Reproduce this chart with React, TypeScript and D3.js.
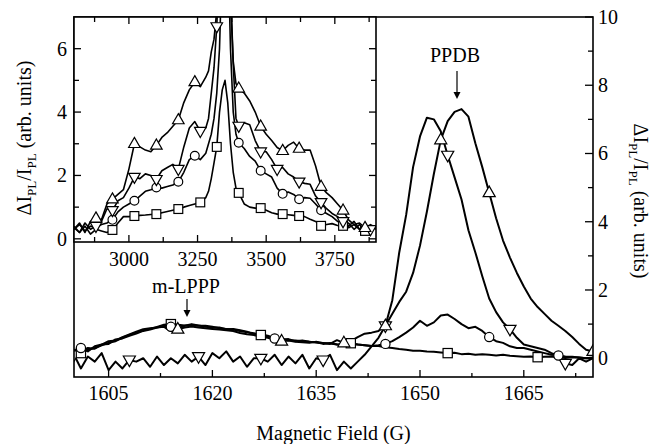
import React from "react";
import * as d3 from "d3";

// ---------- Main panel data (Magnetic field, G) ----------
const mainX: number[] = d3.range(1600, 1676, 1);

const mainSquare: number[] = [
  0.2, 0.15, 0.25, 0.3, 0.38, 0.45, 0.5, 0.6, 0.68, 0.75,
  0.82, 0.86, 0.92, 0.98, 1.0, 0.98, 0.96, 0.97, 0.95, 0.95,
  0.92, 0.88, 0.86, 0.84, 0.8, 0.76, 0.73, 0.68, 0.64, 0.6,
  0.56, 0.53, 0.52, 0.5, 0.48, 0.46, 0.45, 0.43, 0.4, 0.42,
  0.44, 0.4, 0.38, 0.36, 0.36, 0.32, 0.3, 0.27, 0.25, 0.22,
  0.22, 0.2, 0.19, 0.17, 0.15, 0.16, 0.12, 0.13, 0.1, 0.12,
  0.1, 0.08, 0.1, 0.07, 0.06, 0.04, 0.05, 0.03, 0.04, 0.05,
  0.02, 0.01, 0.03, 0.02, 0.0, 0.02,
];
const mainCircle: number[] = [
  0.1, 0.3, 0.2, 0.35, 0.4, 0.5, 0.52, 0.62, 0.7, 0.78,
  0.85, 0.88, 0.9, 0.95, 0.92, 0.88, 0.95, 1.0, 0.96, 0.92,
  0.9, 0.9, 0.85, 0.86, 0.82, 0.78, 0.7, 0.7, 0.66, 0.58,
  0.55, 0.56, 0.5, 0.52, 0.48, 0.47, 0.42, 0.45, 0.4, 0.38,
  0.42, 0.4, 0.38, 0.36, 0.38, 0.42, 0.5, 0.62, 0.75, 0.9,
  1.1, 0.95, 1.05, 1.25, 1.28, 1.15, 1.0, 0.88, 0.92, 0.8,
  0.62, 0.5, 0.45, 0.35, 0.3, 0.3, 0.25, 0.2, 0.15, 0.1,
  0.08, 0.05, 0.04, 0.02, 0.0, 0.0,
];
const mainUp: number[] = [
  0.25, 0.2, 0.3, 0.28, 0.4, 0.42, 0.55, 0.58, 0.66, 0.72,
  0.8, 0.84, 0.9, 0.92, 0.8, 0.85, 0.9, 0.93, 0.9, 0.88,
  0.86, 0.84, 0.82, 0.8, 0.74, 0.7, 0.68, 0.62, 0.6, 0.54,
  0.5, 0.52, 0.48, 0.47, 0.45, 0.48, 0.44, 0.42, 0.53, 0.45,
  0.5, 0.62, 0.72, 0.75, 0.8, 0.95, 1.3, 1.65, 1.95, 2.5,
  3.3, 4.3, 5.4, 6.4, 6.95, 7.22, 7.3, 7.08, 6.3, 5.6,
  4.85, 4.1, 3.45, 2.95, 2.5, 2.1, 1.75, 1.5, 1.3, 1.1,
  0.95, 0.8, 0.62, 0.42, 0.25, 0.2,
];
const mainDown: number[] = [
  0.1, -0.3, 0.05, -0.1, 0.15, -0.35, -0.1, -0.3, -0.05, -0.1,
  0.0, -0.25, 0.05, -0.2, 0.0, -0.15, 0.1, -0.1, 0.05, -0.2,
  0.15, 0.0, 0.2, -0.1, 0.05, -0.25, 0.0, 0.0, -0.1, 0.1,
  -0.2, 0.05, -0.15, 0.1, -0.3, 0.0, -0.05, 0.1, -0.35, -0.1,
  -0.3, -0.1, 0.1, 0.35, 0.6, 0.95, 1.7, 3.1, 4.2, 5.6,
  6.5, 7.05, 7.0, 6.65, 5.95, 5.3, 4.65, 3.75, 3.1, 2.4,
  1.75, 1.35, 1.05, 0.85, 0.6, 0.4, 0.35, 0.3, 0.25, 0.15,
  0.08, -0.15, -0.2, 0.0, -0.1, 0.0,
];

const mainSquareMarks = [1601, 1614, 1627, 1640, 1654, 1667];
const mainCircleMarks = [1601, 1614, 1629, 1645, 1660, 1670];
const mainUpMarks = [1615, 1630, 1639, 1645, 1653, 1660, 1675];
const mainDownMarks = [1600, 1608, 1618, 1627, 1636, 1645, 1654, 1663, 1671];

const mainXTicks = [1605, 1620, 1635, 1650, 1665];
const mainXMinor = [1612.5, 1627.5, 1642.5, 1657.5, 1672.5];
const mainYTicks = [0, 2, 4, 6, 8, 10];
const mainYMinor = [1, 3, 5, 7, 9];

// ---------- Inset data ----------
const insetX: number[] = [
  2800, 2820, 2840, 2860, 2880, 2900, 2920, 2940, 2960, 2980,
  3000, 3020, 3040, 3060, 3080, 3100, 3120, 3140, 3160, 3180,
  3200, 3220, 3240, 3260, 3280,
  3290, 3300, 3310, 3320, 3330, 3340, 3350, 3360, 3370, 3380, 3390, 3400,
  3420, 3440, 3460, 3480, 3500, 3520, 3540, 3560, 3580, 3600,
  3620, 3640, 3660, 3680, 3700, 3720, 3740, 3760, 3780, 3800,
  3820, 3840, 3860, 3880, 3900,
];
const insetUp: number[] = [
  0.3, 0.5, 0.2, 0.55, 0.65, 0.6, 1.1, 1.25, 1.4, 1.55,
  2.2, 3.0, 2.9, 2.8, 2.75, 2.95, 3.2, 3.35, 3.55, 3.75,
  4.3, 4.7, 4.95, 4.8, 5.1,
  5.3, 5.9, 6.3, 7.2, 8.5, 10, 11, 10, 7.5, 5.6, 4.9, 4.75,
  4.6, 4.35, 4.0, 3.55, 3.3, 3.1, 2.88, 2.78, 2.95, 3.05,
  2.85, 2.8, 2.8, 2.3, 1.65, 1.45, 1.3, 1.1, 0.9, 0.6,
  0.45, 0.5, 0.35, 0.45, 0.35,
];
const insetDown: number[] = [
  0.4, 0.2, 0.5, 0.3, 0.4, 0.55, 0.95, 0.9, 1.2, 1.3,
  1.6, 1.95, 1.9, 2.05, 2.0, 1.88, 2.15, 2.25, 2.35, 2.2,
  2.9, 3.5, 3.7, 3.4, 3.5,
  3.8, 4.6, 5.4, 6.7, 9, 11, 12, 11, 8, 5.5, 3.8, 3.56,
  3.66, 3.6, 3.1, 2.75, 2.75, 2.5, 2.2, 2.25, 2.05, 1.95,
  1.8, 1.75, 1.72, 1.35, 1.15, 0.95, 0.8, 0.7, 0.55, 0.4,
  0.55, 0.3, 0.45, 0.3, 0.4,
];
const insetCircle: number[] = [
  0.3, 0.45, 0.25, 0.4, 0.35, 0.45, 0.5, 0.6, 0.85, 1.0,
  1.1, 1.2, 1.35, 1.5, 1.55, 1.62, 1.6, 1.65, 1.7, 1.8,
  2.1, 2.5, 2.62, 2.5, 2.7,
  3.0, 3.3, 3.8, 4.6, 6, 9, 11, 9.5, 6, 4.0, 3.3, 3.03,
  2.85, 2.6, 2.45, 2.15, 2.05, 1.95, 1.6, 1.42, 1.48, 1.4,
  1.25, 1.3, 1.28, 1.1, 0.9, 0.8, 0.7, 0.55, 0.5, 0.35,
  0.45, 0.3, 0.4, 0.3, 0.35,
];
const insetSquare: number[] = [
  0.35, 0.2, 0.4, 0.15, 0.3, 0.25, 0.2, 0.28, 0.5, 0.7,
  0.7, 0.72, 0.74, 0.75, 0.77, 0.78, 0.82, 0.86, 0.9, 0.94,
  1.0, 1.05, 1.1, 1.15, 1.3,
  1.5, 1.9, 2.4, 2.9, 4.0, 4.7, 5.0, 4.3, 3.0, 2.1, 1.6, 1.45,
  1.1, 1.0, 0.97, 0.97, 0.9, 0.82, 0.78, 0.78, 0.76, 0.74,
  0.72, 0.7, 0.62, 0.55, 0.41, 0.45, 0.48, 0.42, 0.41, 0.5,
  0.3, 0.45, 0.25, 0.4, 0.3,
];

const insetUpMarks = [2880, 2940, 3020, 3100, 3180, 3240, 3400, 3480, 3560, 3620, 3700, 3780, 3860];
const insetDownMarks = [2880, 2940, 3020, 3100, 3180, 3260, 3320, 3400, 3480, 3540, 3620, 3700, 3780, 3880];
const insetCircleMarks = [2940, 3020, 3100, 3180, 3240, 3400, 3480, 3560, 3620, 3700];
const insetSquareMarks = [2940, 3020, 3100, 3180, 3260, 3320, 3400, 3480, 3560, 3620, 3700, 3780, 3860];

const insetXTicks = [3000, 3250, 3500, 3750];
const insetXMinor = [2875, 3125, 3375, 3625, 3875];
const insetYTicks = [0, 2, 4, 6];
const insetYMinor = [1, 3, 5];

type MarkType = "square" | "circle" | "up" | "down";

function Marker({ type, x, y, s }: { type: MarkType; x: number; y: number; s: number }) {
  const common = { fill: "white", stroke: "black", strokeWidth: 1.2 };
  if (type === "square") {
    const h = s * 0.42;
    return <rect x={x - h} y={y - h} width={2 * h} height={2 * h} {...common} />;
  }
  if (type === "circle") {
    return <circle cx={x} cy={y} r={s * 0.42} {...common} />;
  }
  const a = s * 0.55;
  if (type === "up") {
    return <path d={`M${x},${y - a * 1.1} L${x + a},${y + a * 0.65} L${x - a},${y + a * 0.65} Z`} {...common} />;
  }
  return <path d={`M${x},${y + a * 1.1} L${x + a},${y - a * 0.65} L${x - a},${y - a * 0.65} Z`} {...common} />;
}

const FONT = "Liberation Serif, Times New Roman, Tinos, DejaVu Serif, serif";

export default function App() {
  const W = 651, H = 444;
  const mL = 74, mR = 593, mT = 17, mB = 377;
  const iL = 74, iR = 376, iT = 17, iB = 242;

  const xM = d3.scaleLinear().domain([1600, 1675]).range([mL, mR]);
  const yM = d3.scaleLinear().domain([-0.55, 10]).range([mB, mT]);
  const xI = d3.scaleLinear().domain([2800, 3900]).range([iL, iR]);
  const yI = d3.scaleLinear().domain([-0.1, 7]).range([iB, iT]);

  const lineM = (ys: number[]) =>
    d3.line<number>().x((_, i) => xM(mainX[i])).y((d) => yM(d))(ys) || "";
  const lineI = (ys: number[]) =>
    d3.line<number>().x((_, i) => xI(insetX[i])).y((d) => yI(d))(ys) || "";

  const mainSeries: { ys: number[]; marks: number[]; type: MarkType }[] = [
    { ys: mainDown, marks: mainDownMarks, type: "down" },
    { ys: mainSquare, marks: mainSquareMarks, type: "square" },
    { ys: mainCircle, marks: mainCircleMarks, type: "circle" },
    { ys: mainUp, marks: mainUpMarks, type: "up" },
  ];
  const insetSeries: { ys: number[]; marks: number[]; type: MarkType }[] = [
    { ys: insetSquare, marks: insetSquareMarks, type: "square" },
    { ys: insetCircle, marks: insetCircleMarks, type: "circle" },
    { ys: insetDown, marks: insetDownMarks, type: "down" },
    { ys: insetUp, marks: insetUpMarks, type: "up" },
  ];

  const txtStyle = { fontFamily: FONT, fontSize: "20px", fill: "black" };

  return (
    <svg width={W} height={H} style={{ position: "absolute", left: 0, top: 0, background: "white", fontFamily: FONT }}>
      <defs>
        <clipPath id="clipMain">
          <rect x={mL} y={mT} width={mR - mL} height={mB - mT} />
        </clipPath>
        <clipPath id="clipInset">
          <rect x={iL} y={iT} width={iR - iL} height={iB - iT} />
        </clipPath>
      </defs>
      <rect x={0} y={0} width={W} height={H} fill="white" />

      {/* main curves */}
      <g clipPath="url(#clipMain)">
        {mainSeries.map((s, k) => (
          <path key={k} d={lineM(s.ys)} fill="none" stroke="black" strokeWidth={2} strokeLinejoin="round" />
        ))}
        {mainSeries.map((s, k) =>
          s.marks.map((mx, j) => {
            const i = mainX.indexOf(mx);
            return <Marker key={`${k}-${j}`} type={s.type} x={xM(mx)} y={yM(s.ys[i])} s={11} />;
          })
        )}
      </g>

      {/* main frame */}
      <rect x={mL} y={mT} width={mR - mL} height={mB - mT} fill="none" stroke="black" strokeWidth={1.6} />

      {/* main bottom ticks */}
      {mainXTicks.map((t) => (
        <g key={t}>
          <line x1={xM(t)} x2={xM(t)} y1={mB} y2={mB - 7} stroke="black" strokeWidth={1.3} />
          <text x={xM(t)} y={400} textAnchor="middle" style={txtStyle}>{t}</text>
        </g>
      ))}
      {mainXMinor.map((t) => (
        <line key={t} x1={xM(t)} x2={xM(t)} y1={mB} y2={mB - 4} stroke="black" strokeWidth={1.3} />
      ))}
      {/* main right ticks */}
      {mainYTicks.map((t) => (
        <g key={t}>
          <line x1={mR} x2={mR - 8} y1={yM(t)} y2={yM(t)} stroke="black" strokeWidth={1.3} />
          <text x={598} y={yM(t)} dy="0.35em" textAnchor="start" style={txtStyle}>{t}</text>
        </g>
      ))}
      {mainYMinor.map((t) => (
        <line key={t} x1={mR} x2={mR - 5} y1={yM(t)} y2={yM(t)} stroke="black" strokeWidth={1.3} />
      ))}

      {/* annotations */}
      <text x={455} y={62} textAnchor="middle" style={txtStyle}>PPDB</text>
      <line x1={457} x2={457} y1={71} y2={95} stroke="black" strokeWidth={1.2} />
      <path d="M453.5,92 L460.5,92 L457,99 Z" fill="black" />
      <text x={186} y={293} textAnchor="middle" style={txtStyle}>m-LPPP</text>
      <line x1={187} x2={187} y1={299} y2={313} stroke="black" strokeWidth={1.2} />
      <path d="M183.5,310 L190.5,310 L187,317 Z" fill="black" />

      {/* x label */}
      <text x={(mL + mR) / 2} y={440} textAnchor="middle" style={txtStyle}>Magnetic Field (G)</text>

      {/* right y label */}
      <text transform={`translate(634,201) rotate(90)`} textAnchor="middle" style={txtStyle}>
        ΔI<tspan style={{ fontSize: "13px" }} dy={5}>PL</tspan>
        <tspan dy={-5}>/I</tspan>
        <tspan style={{ fontSize: "13px" }} dy={5}>PL</tspan>
        <tspan dy={-5}> (arb. units)</tspan>
      </text>

      {/* inset */}
      <rect x={iL} y={iT} width={iR - iL} height={iB - iT} fill="white" />
      <g clipPath="url(#clipInset)">
        {insetSeries.map((s, k) => (
          <path key={k} d={lineI(s.ys)} fill="none" stroke="black" strokeWidth={1.6} strokeLinejoin="round" />
        ))}
        {insetSeries.map((s, k) =>
          s.marks.map((mx, j) => {
            const i = insetX.indexOf(mx);
            return <Marker key={`${k}-${j}`} type={s.type} x={xI(mx)} y={yI(s.ys[i])} s={10.5} />;
          })
        )}
      </g>
      <rect x={iL} y={iT} width={iR - iL} height={iB - iT} fill="none" stroke="black" strokeWidth={1.6} />
      {insetXTicks.map((t) => (
        <g key={t}>
          <line x1={xI(t)} x2={xI(t)} y1={iB} y2={iB - 7} stroke="black" strokeWidth={1.3} />
          <line x1={xI(t)} x2={xI(t)} y1={iT} y2={iT + 7} stroke="black" strokeWidth={1.3} />
          <text x={xI(t)} y={266} textAnchor="middle" style={txtStyle}>{t}</text>
        </g>
      ))}
      {insetXMinor.map((t) => (
        <g key={t}>
          <line x1={xI(t)} x2={xI(t)} y1={iB} y2={iB - 5} stroke="black" strokeWidth={1.3} />
          <line x1={xI(t)} x2={xI(t)} y1={iT} y2={iT + 5} stroke="black" strokeWidth={1.3} />
        </g>
      ))}
      {insetYTicks.map((t) => (
        <g key={t}>
          <line x1={iL} x2={iL + 7} y1={yI(t)} y2={yI(t)} stroke="black" strokeWidth={1.3} />
          <line x1={iR} x2={iR - 7} y1={yI(t)} y2={yI(t)} stroke="black" strokeWidth={1.3} />
          <text x={67} y={yI(t)} dy="0.35em" textAnchor="end" style={txtStyle}>{t}</text>
        </g>
      ))}
      {insetYMinor.map((t) => (
        <g key={t}>
          <line x1={iL} x2={iL + 5} y1={yI(t)} y2={yI(t)} stroke="black" strokeWidth={1.3} />
          <line x1={iR} x2={iR - 5} y1={yI(t)} y2={yI(t)} stroke="black" strokeWidth={1.3} />
        </g>
      ))}

      {/* left y label */}
      <text transform={`translate(31,138) rotate(-90)`} textAnchor="middle" style={txtStyle}>
        ΔI<tspan style={{ fontSize: "13px" }} dy={5}>PL</tspan>
        <tspan dy={-5}>/I</tspan>
        <tspan style={{ fontSize: "13px" }} dy={5}>PL</tspan>
        <tspan dy={-5}> (arb. units)</tspan>
      </text>
    </svg>
  );
}
